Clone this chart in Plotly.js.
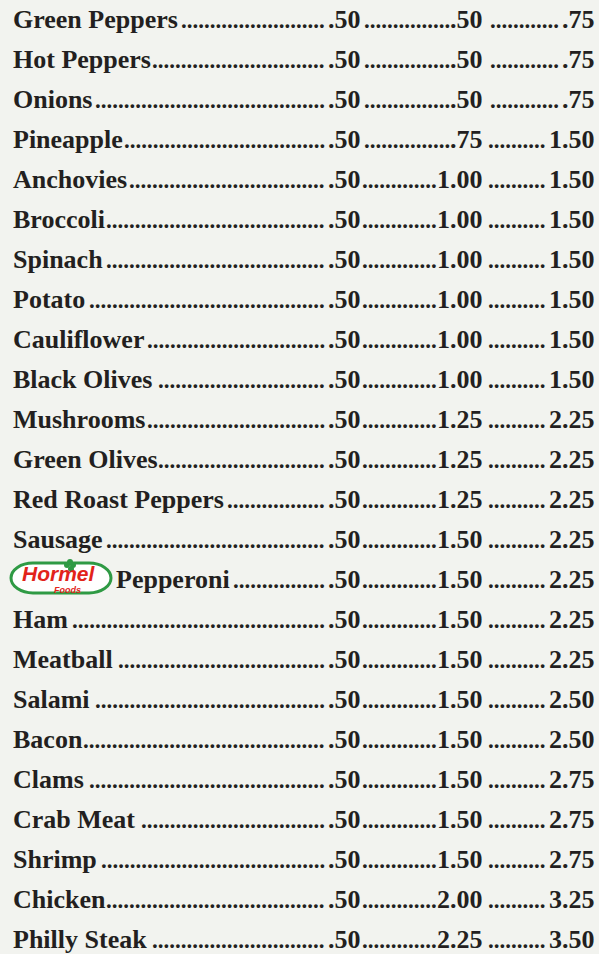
<!DOCTYPE html>
<html><head><meta charset="utf-8">
<script src="https://cdn.plot.ly/plotly-3.0.1.min.js"></script>
<style>html,body{margin:0;padding:0;background:#f2f3ef;overflow:hidden;} #chart{width:599px;height:954px;}</style>
</head><body><div id="chart"></div>
<script>
// ---- data ----
const toppings = ['Green Peppers','Hot Peppers','Onions','Pineapple','Anchovies','Broccoli','Spinach','Potato','Cauliflower','Black Olives','Mushrooms','Green Olives','Red Roast Peppers','Sausage','Pepperoni','Ham','Meatball','Salami','Bacon','Clams','Crab Meat','Shrimp','Chicken','Philly Steak'];
const price1 = [0.50,0.50,0.50,0.50,0.50,0.50,0.50,0.50,0.50,0.50,0.50,0.50,0.50,0.50,0.50,0.50,0.50,0.50,0.50,0.50,0.50,0.50,0.50,0.50];
const price2 = [0.50,0.50,0.50,0.75,1.00,1.00,1.00,1.00,1.00,1.00,1.25,1.25,1.25,1.50,1.50,1.50,1.50,1.50,1.50,1.50,1.50,1.50,2.00,2.25];
const price3 = [0.75,0.75,0.75,1.50,1.50,1.50,1.50,1.50,1.50,1.50,2.25,2.25,2.25,2.25,2.25,2.25,2.25,2.50,2.50,2.75,2.75,2.75,3.25,3.50];
const brandedTopping = 'Pepperoni';
const brandWords = ['Hormel', 'Foods'];

// ---- style / layout ----
const BG = '#f2f3ef', INK = '#231f20', RED = '#e2231a', GREEN = '#2f9a44';
const FAMILY = 'Liberation Serif';
const SANS = 'Liberation Sans';
const W = 599, H = 954, ROW0 = 19, PITCH = 40;
const py = p => (p - ROW0) / PITCH;           // pixel -> row units
const fmt = v => { const s = v.toFixed(2); return v < 1 ? s.slice(1) : s; };

const NAME_SIZE = 26, DOT_SIZE = 23;
const colRight = [362, 484, 596];
const nameX = 12, brandNameX = 115;

const cv = document.createElement('canvas').getContext('2d');
const measure = (txt, size) => { cv.font = 'bold ' + size + 'px "' + FAMILY + '"'; return cv.measureText(txt).width; };
const dotW = measure('.', DOT_SIZE) || DOT_SIZE * 0.25;

const ann = [];
const shapes = [];
const txt = (x, y, anchor, text, size, extra) => Object.assign({
  x: x, y: y, xref: 'x', yref: 'y', xanchor: anchor, yanchor: 'middle', showarrow: false,
  borderpad: 0, text: text, font: {family: FAMILY, size: size, color: INK}}, extra || {});
const dots = (from, to, anchor, i) => {
  const n = Math.max(0, Math.floor((to - from) / dotW));
  if (n > 0) ann.push(txt(anchor === 'left' ? from : to, i, anchor, '<b>' + '.'.repeat(n) + '</b>', DOT_SIZE, {yshift: -1}));
};

toppings.forEach((name, i) => {
  const branded = name === brandedTopping;
  const x0 = branded ? brandNameX : nameX;
  const nameEnd = x0 + measure(name, NAME_SIZE);
  ann.push(txt(x0, i, 'left', '<b>' + name + '</b>', NAME_SIZE));
  const lefts = [];
  [price1, price2, price3].forEach((col, c) => {
    const s = fmt(col[i]);
    lefts.push(colRight[c] - measure(s, NAME_SIZE));
    ann.push(txt(colRight[c], i, 'right', '<b>' + s + '</b>', NAME_SIZE));
  });
  dots(nameEnd + 2, lefts[0] - 4, 'right', i);
  dots(colRight[0] + 1, lefts[1] - 0.5, 'right', i);
  dots(colRight[1] + 4, lefts[2] - 4, 'right', i);

  if (branded) {
    const x0l = 11, x1l = 111;
    const tt = i + (563 - 579) / PITCH, bb = i + (593 - 579) / PITCH, mid = (tt + bb) / 2;
    const rx = 22, k = 0.5523, ry = (bb - tt) / 2;
    const path = `M ${x0l+rx},${tt} L ${x1l-rx},${tt} C ${x1l-rx+k*rx},${tt} ${x1l},${mid-k*ry} ${x1l},${mid} ` +
      `C ${x1l},${mid+k*ry} ${x1l-rx+k*rx},${bb} ${x1l-rx},${bb} L ${x0l+rx},${bb} ` +
      `C ${x0l+rx-k*rx},${bb} ${x0l},${mid+k*ry} ${x0l},${mid} C ${x0l},${mid-k*ry} ${x0l+rx-k*rx},${tt} ${x0l+rx},${tt} Z`;
    shapes.push({type: 'path', xref: 'x', yref: 'y', path: path, fillcolor: '#ffffff', line: {color: GREEN, width: 3}});
    // leaf
    [[67, 565], [73, 565], [70, 562], [71, 569]].forEach(([lx, ly]) => {
      const yc = i + (ly - 579) / PITCH;
      shapes.push({type: 'circle', xref: 'x', yref: 'y', x0: lx - 3, x1: lx + 3,
        y0: yc - 3 / PITCH, y1: yc + 3 / PITCH, fillcolor: GREEN, line: {width: 0}});
    });
    ann.push(txt(59, i + (573 - 579) / PITCH, 'center', '<b><i>' + brandWords[0] + '</i></b>', 21,
      {font: {family: SANS, size: 21, color: RED}}));
    ann.push(txt(67, i + (590 - 579) / PITCH, 'center', '<b><i>' + brandWords[1] + '</i></b>', 9,
      {font: {family: SANS, size: 9, color: RED}}));
  }
});

const layout = {
  width: W, height: H, margin: {l: 0, r: 0, t: 0, b: 0, pad: 0},
  paper_bgcolor: BG, plot_bgcolor: BG, showlegend: false,
  xaxis: {range: [0, W], visible: false, fixedrange: true},
  yaxis: {range: [py(H), py(0)], visible: false, fixedrange: true},
  annotations: ann, shapes: shapes
};
Plotly.newPlot('chart', [{type: 'scatter', x: [], y: [], mode: 'markers', hoverinfo: 'skip'}], layout,
  {staticPlot: true, displayModeBar: false});
</script>
</body></html>
